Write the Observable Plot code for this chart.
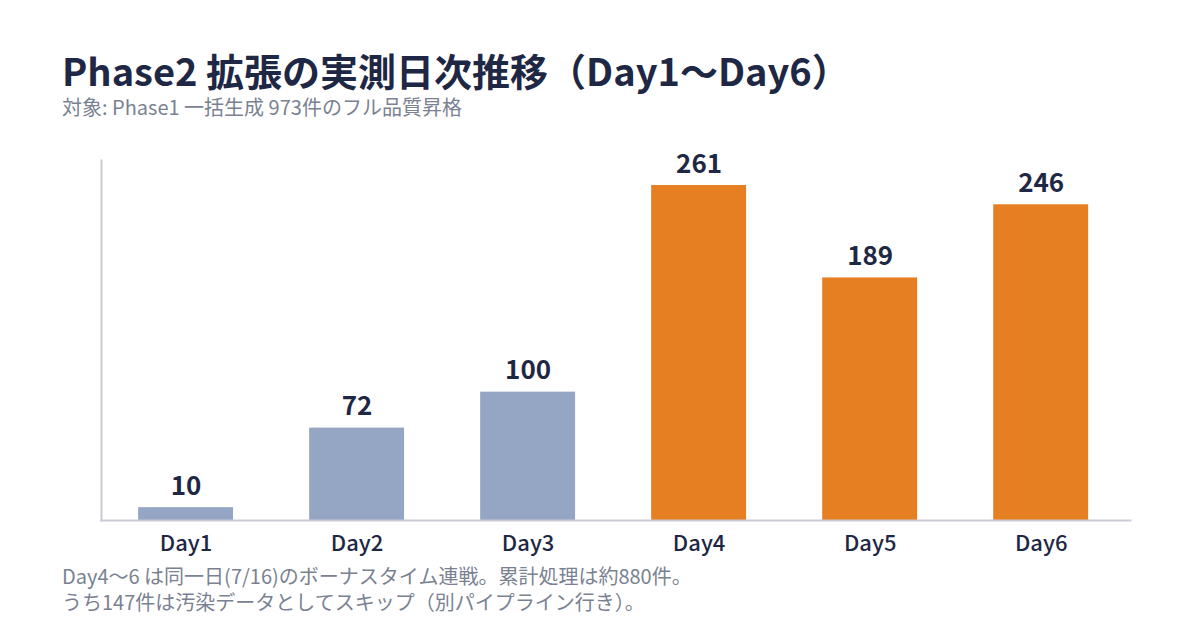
<!DOCTYPE html>
<html lang="ja">
<head>
<meta charset="utf-8">
<script src="https://cdn.jsdelivr.net/npm/d3@7"></script>
<script src="https://cdn.jsdelivr.net/npm/@observablehq/plot@0.6"></script>
<style>
  html, body { margin: 0; padding: 0; background: #fff; }
  body { width: 1200px; height: 630px; position: relative; overflow: hidden;
         font-family: "Noto Sans CJK JP", "Noto Sans", sans-serif; }
  .title { position: absolute; left: 62px; top: 50px; font-size: 38px; font-weight: 700;
           color: #1e2744; line-height: 40px; white-space: nowrap; }
  .subtitle { position: absolute; left: 62px; top: 96px; font-size: 20px; font-weight: 400;
              color: #7a8292; line-height: 22px; white-space: nowrap; }
  #chart { position: absolute; left: 0; top: 130px; }
  .caption { position: absolute; left: 62px; top: 563px; font-size: 20px; color: #7a8292;
             line-height: 26px; white-space: nowrap; }
</style>
</head>
<body>
<div class="title">Phase2 拡張の実測日次推移（Day1～Day6）</div>
<div class="subtitle">対象: Phase1 一括生成 973件のフル品質昇格</div>
<div id="chart"></div>
<div class="caption">Day4～6 は同一日(7/16)のボーナスタイム連戦。累計処理は約880件。<br>うち147件は汚染データとしてスキップ（別パイプライン行き）。</div>
<script>
// Daily processed counts
const days = ["Day1", "Day2", "Day3", "Day4", "Day5", "Day6"];
const counts = [10, 72, 100, 261, 189, 246];
// Day4–6 ran back-to-back on the same bonus day
const phase = ["通常", "通常", "通常", "ボーナス", "ボーナス", "ボーナス"];

const rows = days.map((d, i) => ({day: d, count: counts[i], phase: phase[i]}));

const chart = Plot.plot({
  width: 1200,
  height: 430,
  marginLeft: 101,
  marginRight: 70,
  marginTop: 30,
  marginBottom: 40,
  style: {fontFamily: '"Noto Sans CJK JP", "Noto Sans", sans-serif', background: "transparent"},
  x: {domain: days, paddingInner: 0.445, paddingOuter: 0.231, align: 0.47, round: false, label: null},
  y: {domain: [0, 280.5], axis: null},
  color: {domain: ["通常", "ボーナス"], range: ["#95a5c4", "#e67e22"]},
  marks: [
    Plot.barY(rows, {x: "day", y: "count", fill: "phase"}),
    Plot.text(rows, {x: "day", y: "count", text: d => String(d.count), dy: -13,
      lineAnchor: "bottom", fontSize: 26, fontWeight: 700, fill: "#1e2744"}),
    Plot.frame({anchor: "left", stroke: "#c9cad6", strokeWidth: 2}),
    Plot.frame({anchor: "bottom", stroke: "#c9cad6", strokeWidth: 2}),
    Plot.axisX({tickSize: 0, tickPadding: 15, fontSize: 22, fontWeight: 500,
      fill: "#1e2744", label: null})
  ]
});
document.getElementById("chart").appendChild(chart);
</script>
</body>
</html>
